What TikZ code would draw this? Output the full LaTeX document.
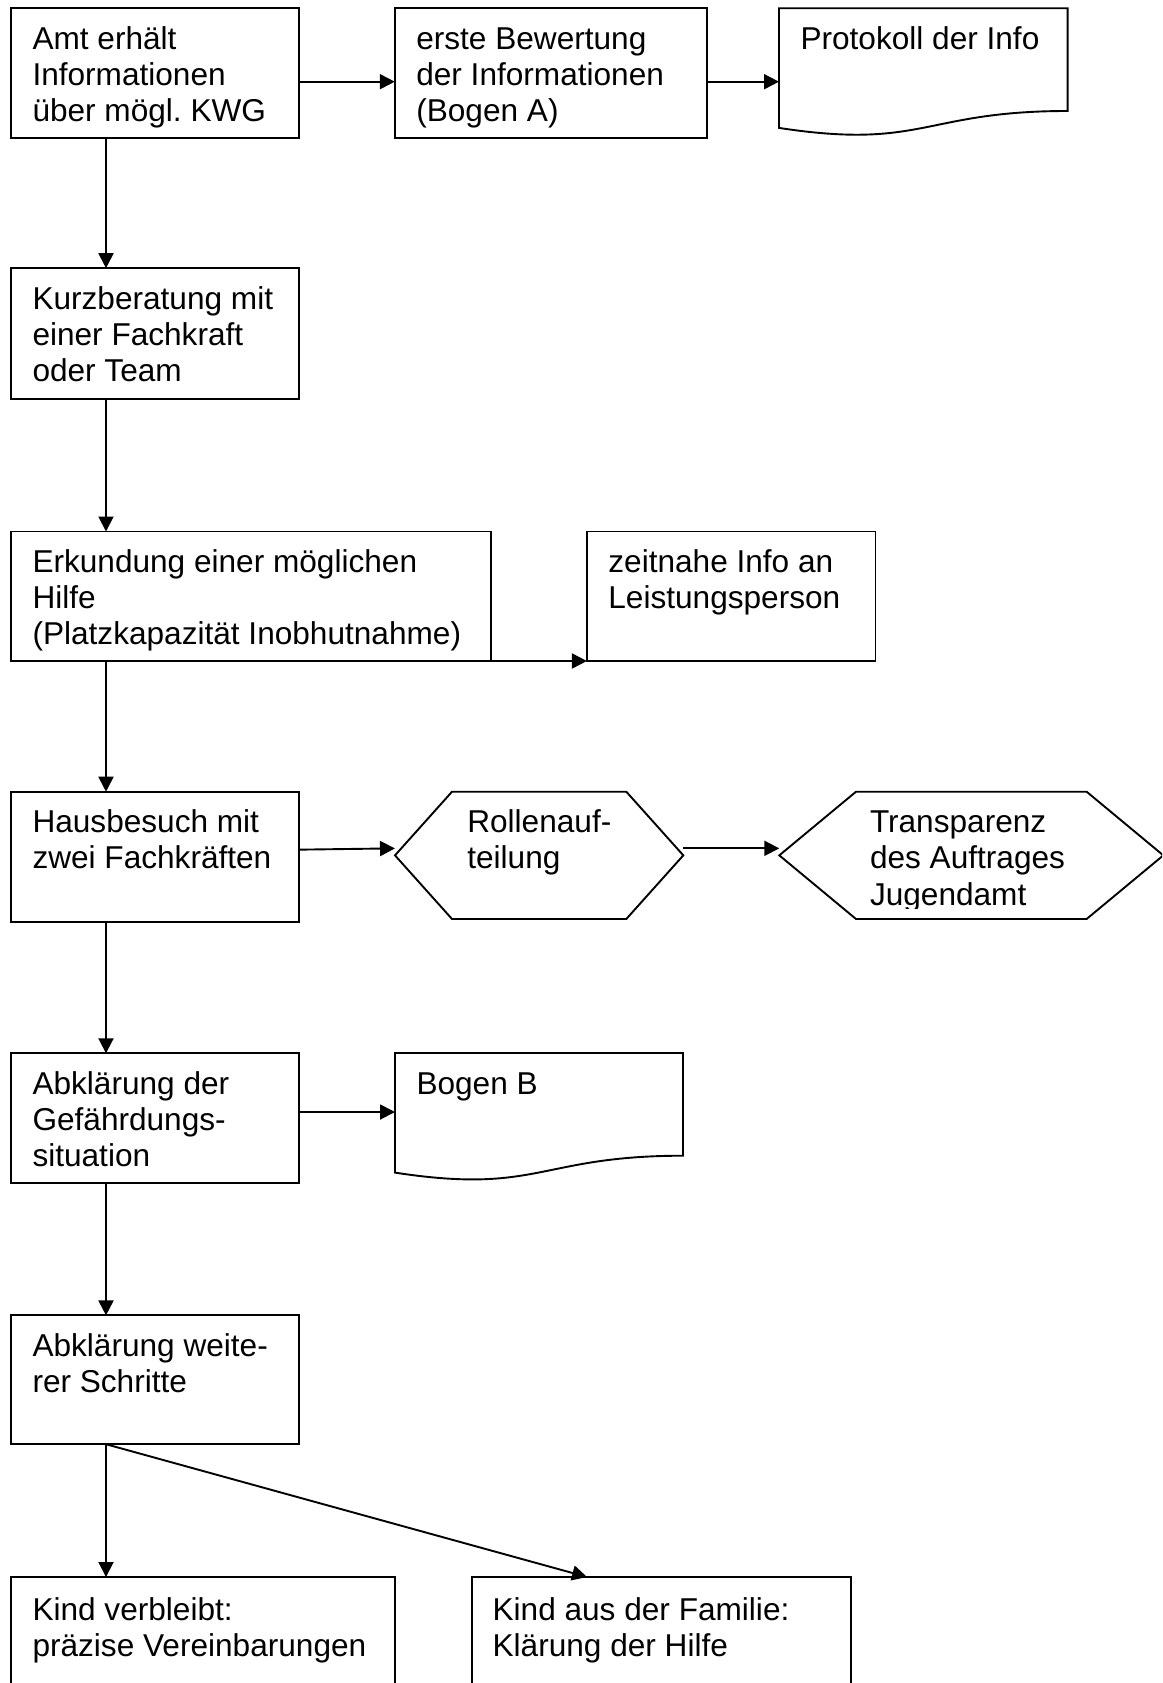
\documentclass[tikz,border=0pt]{standalone}
\usepackage{fontspec}
\setmainfont{Liberation Sans}
\usetikzlibrary{arrows.meta,calc}
\frenchspacing
\begin{document}
\begin{tikzpicture}[x=1pt,y=-1pt,
  every node/.style={inner sep=0pt, outer sep=0pt},
  box/.style={draw, line width=1.9pt, anchor=north west, rectangle},
  frame/.style={anchor=north west, rectangle},
  outline/.style={line width=1.9pt, line join=miter},
  txt/.style={anchor=north west, align=left, font=\fontsize{31.6}{36.2}\selectfont\frenchspacing},
  arr/.style={line width=1.9pt, -{Triangle[length=15pt,width=15pt]}}
]
\fill[white] (0,0) rectangle (1162,1683);
\useasboundingbox (0,0) rectangle (1162,1683);
\clip (0,0) rectangle (1162,1683);

% ---- row 1
\node[box, minimum width=288pt, minimum height=129.4pt] (a) at (11,8.3) {};
\node[txt] (ta) at ([xshift=21.5pt,yshift=-15.7pt]a.north west) {\strut Amt erhält\\Informationen\\über mögl. KWG};

\node[box, minimum width=312.3pt, minimum height=129.4pt] (b) at (394.8,8.3) {};
\node[txt] (tb) at ([xshift=21.5pt,yshift=-15.7pt]b.north west) {\strut erste Bewertung\\der Informationen\\(Bogen A)};

\node[frame, minimum width=288.6pt, minimum height=128pt] (c) at (779,8.3) {};
\draw[outline] (c.north west) -- (c.north east) -- ($(c.north east)+(0,102.7)$)
  .. controls ($(c.north west)+(144.3,102.7)$) and ($(c.north west)+(144.3,141.8)$) .. ($(c.north west)+(0,119.6)$) -- cycle;
\node[txt] (tc) at ([xshift=21.5pt,yshift=-15.7pt]c.north west) {\strut Protokoll der Info};

% ---- row 2
\node[box, minimum width=288pt, minimum height=130.5pt] (d) at (11,268.2) {};
\node[txt] (td) at ([xshift=21.5pt,yshift=-15.7pt]d.north west) {\strut Kurzberatung mit\\einer Fachkraft\\oder Team};

% ---- row 3
\node[box, minimum width=480.4pt, minimum height=129.5pt] (e) at (11,531.5) {};
\node[txt] (te) at ([xshift=21.5pt,yshift=-15.7pt]e.north west) {\strut Erkundung einer möglichen\\Hilfe\\(Platzkapazität Inobhutnahme)};

\node[box, minimum width=288.6pt, minimum height=129.5pt] (f) at (586.9,531.5) {};
\node[txt] (tf) at ([xshift=21.5pt,yshift=-15.7pt]f.north west) {\strut zeitnahe Info an\\Leistungsperson};

% ---- row 4
\node[box, minimum width=288pt, minimum height=130.3pt] (g) at (11,791.7) {};
\node[txt] (tg) at ([xshift=21.5pt,yshift=-15.7pt]g.north west) {\strut Hausbesuch mit\\zwei Fachkräften};

\node[frame, minimum width=288.3pt, minimum height=127.3pt] (h) at (395,791.7) {};
\draw[outline] (h.west) -- ([xshift=57pt]h.north west) -- ([xshift=-57pt]h.north east)
  -- (h.east) -- ([xshift=-57pt]h.south east) -- ([xshift=57pt]h.south west) -- cycle;
\node[txt] (th) at ([xshift=72.3pt,yshift=-15.7pt]h.north west) {\strut Rollenauf-\\teilung};

\node[frame, minimum width=384pt, minimum height=127.3pt] (i) at (779.3,791.7) {};
\draw[outline] (i.west) -- ([xshift=76.7pt]i.north west) -- ([xshift=-76.7pt]i.north east)
  -- (i.east) -- ([xshift=-76.7pt]i.south east) -- ([xshift=76.7pt]i.south west) -- cycle;
\begin{scope}
  \clip (779,791) rectangle (1163,908.5);
  \node[txt] (ti) at ([xshift=90.7pt,yshift=-15.7pt]i.north west) {\strut Transparenz\\des Auftrages\\Jugendamt};
\end{scope}

% ---- row 5
\node[box, minimum width=288pt, minimum height=130pt] (j) at (11,1053.3) {};
\node[txt] (tj) at ([xshift=21.5pt,yshift=-15.7pt]j.north west) {\strut Abklärung der\\Gefährdungs-\\situation};

\node[frame, minimum width=288pt, minimum height=128pt] (k) at (395,1053) {};
\draw[outline] (k.north west) -- (k.north east) -- ($(k.north east)+(0,102.7)$)
  .. controls ($(k.north west)+(144,102.7)$) and ($(k.north west)+(144,141.8)$) .. ($(k.north west)+(0,119.6)$) -- cycle;
\node[txt] (tk) at ([xshift=21.5pt,yshift=-15.7pt]k.north west) {\strut Bogen B};

% ---- row 6
\node[box, minimum width=288pt, minimum height=128.8pt] (l) at (11,1315.4) {};
\node[txt] (tl) at ([xshift=21.5pt,yshift=-15.7pt]l.north west) {\strut Abklärung weite-\\rer Schritte};

% ---- row 7
\node[box, minimum width=383.8pt, minimum height=200pt] (m) at (11,1577) {};
\node[txt] (tm) at ([xshift=21.5pt,yshift=-17.7pt]m.north west) {\strut Kind verbleibt:\\präzise Vereinbarungen};

\node[box, minimum width=378.8pt, minimum height=200pt] (n) at (472.1,1577) {};
\node[txt] (tn) at ([xshift=20.5pt,yshift=-17.7pt]n.north west) {\strut Kind aus der Familie:\\Klärung der Hilfe};

% ---- connectors
\draw[arr] ([yshift=-8.7pt]a.east) -- ([yshift=-8.7pt]a.east -| b.west);
\draw[arr] ([yshift=-8.7pt]b.east) -- ([yshift=-8.7pt]b.east -| c.west);
\draw[arr] ([xshift=95pt]a.south west) -- ([xshift=95pt]a.south west |- d.north);
\draw[arr] ([xshift=95pt]d.south west) -- ([xshift=95pt]d.south west |- e.north);
\draw[arr] (e.south east) -- (e.south east -| f.west);
\draw[arr] ([xshift=95pt]e.south west) -- ([xshift=95pt]e.south west |- g.north);
\draw[arr] ([yshift=7.2pt]g.east) -- ([yshift=7pt]h.west);
\draw[arr] ([yshift=7pt]h.east) -- ([yshift=7pt]h.east -| i.west);
\draw[arr] ([xshift=95pt]g.south west) -- ([xshift=95pt]g.south west |- j.north);
\draw[arr] ([yshift=6.3pt]j.east) -- ([yshift=6.3pt]j.east -| k.west);
\draw[arr] ([xshift=95pt]j.south west) -- ([xshift=95pt]j.south west |- l.north);
\draw[arr] ([xshift=95pt]l.south west) -- ([xshift=95pt]l.south west |- m.north);
\draw[arr] ([xshift=95pt]l.south west) -- ([xshift=115pt]n.north west);
\end{tikzpicture}
\end{document}
